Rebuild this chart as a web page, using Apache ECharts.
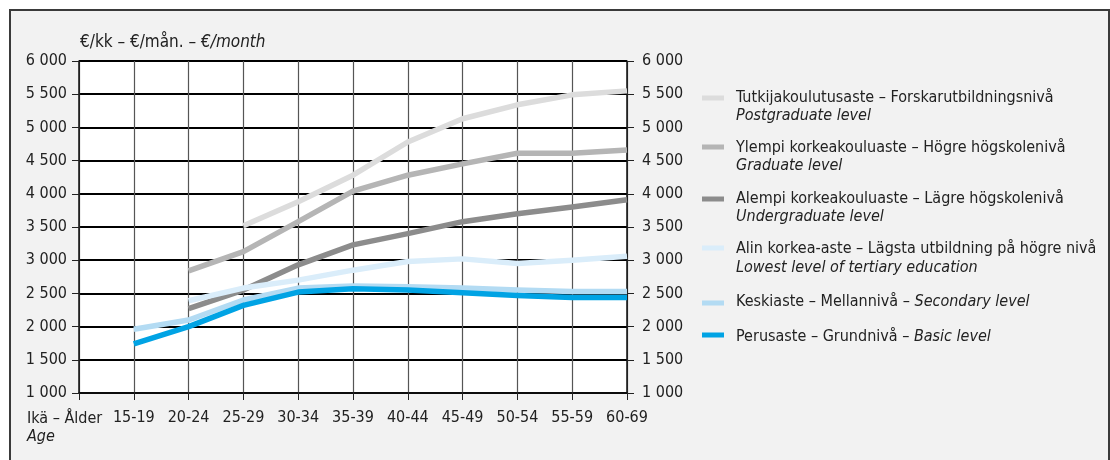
<!DOCTYPE html>
<html>
<head>
<meta charset="utf-8">
<script src="https://cdn.jsdelivr.net/npm/echarts@6/dist/echarts.min.js"></script>
<style>
html,body{margin:0;padding:0;background:#fff;}
#wrap{position:relative;width:1110px;height:460px;overflow:hidden;}
#frame{position:absolute;left:9px;top:9px;width:1097px;height:470px;border:2px solid #3a3a3a;background:#f2f2f2;}
#chart{position:absolute;left:0;top:0;width:1110px;height:460px;}
</style>
</head>
<body>
<div id="wrap"><div id="frame"></div><div id="chart"></div></div>
<script>
const FONT = '"Liberation Sans Narrow","DejaVu Sans Condensed","Liberation Sans",sans-serif';

const categories = ['', '15-19', '20-24', '25-29', '30-34', '35-39', '40-44', '45-49', '50-54', '55-59', '60-69'];
const yTicks = [1000, 1500, 2000, 2500, 3000, 3500, 4000, 4500, 5000, 5500, 6000];

const postgraduate  = [null, null, null, 3520, 3880, 4280, 4780, 5130, 5340, 5490, 5550];
const graduate      = [null, null, 2840, 3130, 3580, 4040, 4280, 4450, 4610, 4610, 4660];
const undergraduate = [null, null, 2270, 2550, 2930, 3230, 3400, 3580, 3700, 3800, 3910];
const lowestTertiary= [null, null, 2390, 2580, 2700, 2850, 2980, 3020, 2950, 3000, 3060];
const secondary     = [null, 1960, 2100, 2400, 2580, 2610, 2600, 2580, 2550, 2530, 2530];
const basic         = [null, 1740, 2000, 2320, 2520, 2570, 2550, 2510, 2470, 2440, 2440];

const seriesNames = [
  ['Tutkijakoulutusaste – Forskarutbildningsnivå', 'Postgraduate level'],
  ['Ylempi korkeakouluaste – Högre högskolenivå', 'Graduate level'],
  ['Alempi korkeakouluaste – Lägre högskolenivå', 'Undergraduate level'],
  ['Alin korkea-aste – Lägsta utbildning på högre nivå', 'Lowest level of tertiary education'],
  ['Keskiaste – Mellannivå – ', 'Secondary level'],
  ['Perusaste – Grundnivå – ', 'Basic level']
];
const seriesData = [postgraduate, graduate, undergraduate, lowestTertiary, secondary, basic];
const colors = ['#dcdcdc', '#b5b5b5', '#8c8c8c', '#daedfa', '#b3dbf3', '#00a3e4'];

const fmt = v => { const s = String(v); return s.length > 3 ? s.slice(0, s.length - 3) + ' ' + s.slice(-3) : s; };

const chart = echarts.init(document.getElementById('chart'), null, {renderer: 'canvas'});

// legend (custom layout)
const legendY = [[98, 116], [148, 166], [199, 217], [249, 268], [302], [337]];
const swatchY = [98, 147, 199, 248, 303, 335];
const graphics = [];
seriesNames.forEach((n, i) => {
  graphics.push({type: 'rect', left: 702, top: swatchY[i] - 2.5, shape: {x: 0, y: 0, width: 22, height: 5}, style: {fill: colors[i]}, silent: true});
  if (legendY[i].length === 2) {
    graphics.push({type: 'text', x: 736, y: legendY[i][0], style: {text: n[0], font: '16px ' + FONT, fill: '#222', verticalAlign: 'middle'}});
    graphics.push({type: 'text', x: 736, y: legendY[i][1], style: {text: n[1], font: 'italic 16px ' + FONT, fill: '#222', verticalAlign: 'middle'}});
  } else {
    graphics.push({type: 'text', x: 736, y: legendY[i][0], style: {text: '{r|' + n[0] + '}{i|' + n[1] + '}', fill: '#222', verticalAlign: 'middle',
      rich: {r: {font: '16px ' + FONT, fill: '#222'}, i: {font: 'italic 16px ' + FONT, fill: '#222'}}}});
  }
});
// unit title
graphics.push({type: 'text', x: 80, y: 43, style: {text: '{r|€/kk – €/mån. – }{i|€/month}', verticalAlign: 'middle',
  rich: {r: {font: '17px ' + FONT, fill: '#222'}, i: {font: 'italic 17px ' + FONT, fill: '#222'}}}});
// age axis caption
graphics.push({type: 'text', x: 27, y: 419, style: {text: 'Ikä – Ålder', font: '16px ' + FONT, fill: '#222', verticalAlign: 'middle'}});
graphics.push({type: 'text', x: 27, y: 437, style: {text: 'Age', font: 'italic 16px ' + FONT, fill: '#222', verticalAlign: 'middle'}});

const yCommon = {
  type: 'value', min: yTicks[0], max: yTicks[yTicks.length - 1], interval: 500,
  axisLine: {show: true, lineStyle: {color: '#111', width: 1.5}},
  axisTick: {show: true, length: 7, lineStyle: {color: '#222', width: 1}},
  axisLabel: {color: '#222', fontFamily: FONT, fontSize: 16, formatter: fmt}
};

chart.setOption({
  animation: false,
  backgroundColor: 'transparent',
  grid: {left: 79, right: 1110 - 627, top: 61, bottom: 460 - 393, show: true, backgroundColor: '#ffffff', borderWidth: 0},
  xAxis: {
    type: 'category', data: categories, boundaryGap: false,
    axisLine: {show: true, lineStyle: {color: '#111', width: 1.5}},
    axisTick: {show: true, length: 7, alignWithLabel: true, lineStyle: {color: '#222', width: 1}},
    axisLabel: {color: '#222', fontFamily: FONT, fontSize: 16, margin: 17, interval: 0},
    splitLine: {show: true, lineStyle: {color: '#555', width: 1.2}}
  },
  yAxis: [
    Object.assign({}, yCommon, {position: 'left', axisLabel: Object.assign({}, yCommon.axisLabel, {margin: 12}),
      splitLine: {show: true, lineStyle: {color: '#000', width: 2}}}),
    Object.assign({}, yCommon, {position: 'right', axisLabel: Object.assign({}, yCommon.axisLabel, {margin: 15}),
      splitLine: {show: false}})
  ],
  series: seriesData.map((d, i) => ({
    name: seriesNames[i].join(' '), type: 'line', data: d, yAxisIndex: 0,
    symbol: 'none', connectNulls: false,
    lineStyle: {color: colors[i], width: 5.5, cap: 'butt', join: 'round'},
    itemStyle: {color: colors[i]}
  })),
  graphic: graphics
});
</script>
</body>
</html>
